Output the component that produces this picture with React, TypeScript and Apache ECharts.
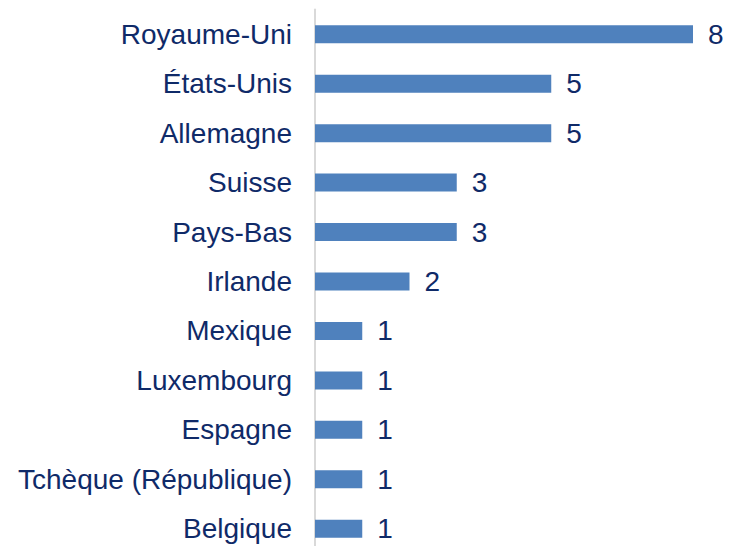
import React, { useEffect, useRef } from "react";
import * as echarts from "echarts";

const categories = [
  "Royaume-Uni",
  "États-Unis",
  "Allemagne",
  "Suisse",
  "Pays-Bas",
  "Irlande",
  "Mexique",
  "Luxembourg",
  "Espagne",
  "Tchèque (République)",
  "Belgique",
];
const values = [8, 5, 5, 3, 3, 2, 1, 1, 1, 1, 1];

export default function App() {
  const ref = useRef<HTMLDivElement>(null);
  useEffect(() => {
    if (!ref.current) return;
    const chart = echarts.init(ref.current, undefined, { renderer: "svg" });
    const textColor = "#0F2A68";
    const font = "'Liberation Sans', Arial, sans-serif";
    chart.setOption({
      animation: false,
      backgroundColor: "#ffffff",
      grid: { left: 315, top: 9.5, width: 378, height: 544, containLabel: false },
      xAxis: {
        type: "value",
        min: 0,
        max: 8,
        show: false,
        splitLine: { show: false },
      },
      yAxis: {
        type: "category",
        data: categories,
        inverse: true,
        axisLine: { show: true, lineStyle: { color: "#D9D9D9", width: 2 } },
        axisTick: { show: false },
        axisLabel: {
          color: textColor,
          fontSize: 28,
          fontFamily: font,
          margin: 23,
        },
      },
      series: [
        {
          type: "bar",
          data: values,
          barWidth: 18,
          itemStyle: { color: "#4F81BD" },
          label: {
            show: true,
            position: "right",
            distance: 15,
            color: textColor,
            fontSize: 28,
            fontFamily: font,
          },
        },
      ],
    });
    return () => chart.dispose();
  }, []);
  return (
    <div
      style={{
        position: "fixed",
        left: 0,
        top: 0,
        width: 729,
        height: 546,
        overflow: "hidden",
      }}
    >
      <div ref={ref} style={{ width: 729, height: 570 }} />
    </div>
  );
}
